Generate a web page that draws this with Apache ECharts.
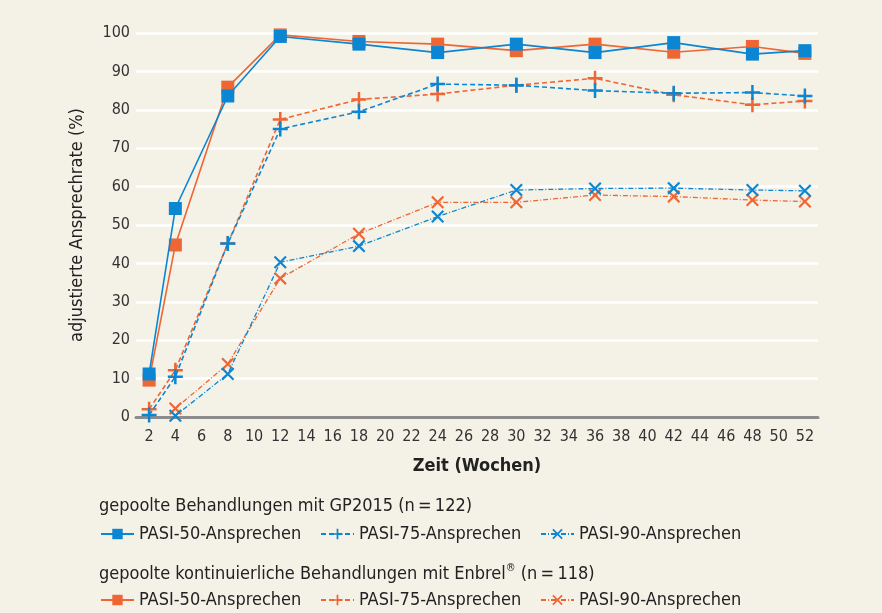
<!DOCTYPE html>
<html lang="de">
<head>
<meta charset="UTF-8">
<title>Ansprechrate</title>
<style>
    html, body { margin: 0; padding: 0; background: #f4f1e7; }
    #chart { width: 882px; height: 613px; }
</style>
</head>
<body>
<div id="chart"></div>
<script src="https://cdn.jsdelivr.net/npm/echarts@6/dist/echarts.min.js"></script>
<script>
// Wochen-Achse (2 ... 52)
var weeks = [];
for (var w = 2; w <= 52; w += 2) weeks.push(String(w));

var measureWeeks = [2, 4, 8, 12, 18, 24, 30, 36, 42, 48, 52];
var pasi90Weeks = [4, 8, 12, 18, 24, 30, 36, 42, 48, 52];

// GP2015
var gpPasi50 = [11.2, 54.3, 83.6, 99.1, 97.1, 94.9, 97.1, 94.9, 97.5, 94.5, 95.4];
var gpPasi75 = [0.5, 10.5, 45.2, 75.0, 79.5, 86.7, 86.4, 85.0, 84.3, 84.5, 83.6];
var gpPasi90 = [0.3, 11.2, 40.3, 44.5, 52.2, 59.1, 59.5, 59.6, 59.1, 58.9];

// Enbrel
var enPasi50 = [9.6, 44.8, 85.9, 99.5, 97.8, 97.1, 95.4, 97.1, 95.0, 96.5, 94.7];
var enPasi75 = [2.0, 12.2, 45.2, 77.5, 82.7, 84.1, 86.4, 88.2, 83.9, 81.3, 82.3];
var enPasi90 = [2.2, 13.8, 36.1, 47.7, 55.9, 55.9, 57.8, 57.4, 56.5, 56.1];

var yTicks = [0, 10, 20, 30, 40, 50, 60, 70, 80, 90, 100];

var BLUE = '#0a86d2';
var ORANGE = '#ee6634';
var FONT = '"Liberation Sans Narrow", "DejaVu Sans Condensed", "Noto Sans", sans-serif';

var plusPath = 'path://M5,0 H7 V12 H5 Z M0,5 H12 V7 H0 Z';
var crossPath = 'path://M0,1.4 L1.4,0 L12,10.6 L10.6,12 Z M10.6,0 L12,1.4 L1.4,12 L0,10.6 Z';

function pairs(xs, ys) {
    return xs.map(function (x, i) { return [String(x), ys[i]]; });
}

function makeSeries(name, color, xs, ys, kind) {
    var s = {
        name: name,
        type: 'line',
        data: pairs(xs, ys),
        color: color,
        z: 3,
        lineStyle: { color: color, width: 1.6 },
        itemStyle: { color: color },
        emphasis: { disabled: true },
        animation: false
    };
    if (kind === 50) {
        s.symbol = 'rect';
        s.symbolSize = 13;
        s.lineStyle.type = 'solid';
    } else if (kind === 75) {
        s.symbol = plusPath;
        s.symbolSize = 15;
        s.lineStyle.type = [5, 3];
    } else {
        s.symbol = crossPath;
        s.symbolSize = 13;
        s.lineStyle.type = [5, 2, 1, 2];
        s.lineStyle.width = 1.3;
    }
    return s;
}

var series = [
    makeSeries('gp50', BLUE, measureWeeks, gpPasi50, 50),
    makeSeries('gp75', BLUE, measureWeeks, gpPasi75, 75),
    makeSeries('gp90', BLUE, pasi90Weeks, gpPasi90, 90),
    makeSeries('en50', ORANGE, measureWeeks, enPasi50, 50),
    makeSeries('en75', ORANGE, measureWeeks, enPasi75, 75),
    makeSeries('en90', ORANGE, pasi90Weeks, enPasi90, 90)
];
// Enbrel-Linien unter GP2015
series[3].z = 2; series[4].z = 2; series[5].z = 2;

var legendLabels = {
    gp50: 'PASI-50-Ansprechen', gp75: 'PASI-75-Ansprechen', gp90: 'PASI-90-Ansprechen',
    en50: 'PASI-50-Ansprechen', en75: 'PASI-75-Ansprechen', en90: 'PASI-90-Ansprechen'
};

function legendItem(name, left, top) {
    return {
        data: [name],
        left: left,
        top: top,
        itemWidth: 33,
        itemHeight: 13,
        itemGap: 0,
        selectedMode: false,
        padding: 0,
        textStyle: { fontFamily: FONT, fontSize: 18, color: '#222' },
        formatter: function (n) { return legendLabels[n]; }
    };
}

var headStyle = {
    fontFamily: FONT, fontSize: 18, fontWeight: 'normal', color: '#222',
    rich: {
        n: { fontFamily: FONT, fontSize: 18, color: '#222', lineHeight: 22 },
        s: { fontFamily: FONT, fontSize: 11, color: '#222', lineHeight: 22, verticalAlign: 'top', padding: [0, 0, 8, 0] }
    }
};

var chart = echarts.init(document.getElementById('chart'));

var option = {
    backgroundColor: '#f4f1e7',
    textStyle: { fontFamily: FONT },
    title: [
        {
            text: '{n|gepoolte Behandlungen mit GP2015 (n\u2009=\u2009122)}',
            left: 99, top: 495, padding: 0,
            textStyle: headStyle
        },
        {
            text: '{n|gepoolte kontinuierliche Behandlungen mit Enbrel}{s|\u00ae}{n| (n\u2009=\u2009118)}',
            left: 99, top: 563, padding: 0,
            textStyle: headStyle
        }
    ],
    legend: [
        legendItem('gp50', 100, 525),
        legendItem('gp75', 320, 525),
        legendItem('gp90', 540, 525),
        legendItem('en50', 100, 591),
        legendItem('en75', 320, 591),
        legendItem('en90', 540, 591)
    ],
    grid: { left: 136, right: 64, top: 33, bottom: 196, containLabel: false },
    xAxis: {
        type: 'category',
        data: weeks,
        boundaryGap: true,
        name: 'Zeit (Wochen)',
        nameLocation: 'middle',
        nameGap: 40,
        nameTextStyle: { fontFamily: FONT, fontSize: 18, fontWeight: 'bold', color: '#222' },
        axisTick: { show: false },
        axisLine: { lineStyle: { color: '#8c8c8c', width: 3 } },
        axisLabel: { fontFamily: FONT, fontSize: 16, color: '#333', margin: 12, interval: 0 },
        splitLine: { show: false }
    },
    yAxis: {
        type: 'value',
        min: yTicks[0],
        max: yTicks[yTicks.length - 1],
        interval: 10,
        name: 'adjustierte Ansprechrate (%)',
        nameLocation: 'middle',
        nameGap: 50,
        nameTextStyle: { fontFamily: FONT, fontSize: 18, color: '#222' },
        axisLine: { show: false },
        axisTick: { show: false },
        axisLabel: { fontFamily: FONT, fontSize: 16, color: '#333', margin: 6 },
        splitLine: { lineStyle: { color: '#ffffff', width: 2.5 } }
    },
    series: series
};

chart.setOption(option);
</script>
</body>
</html>
